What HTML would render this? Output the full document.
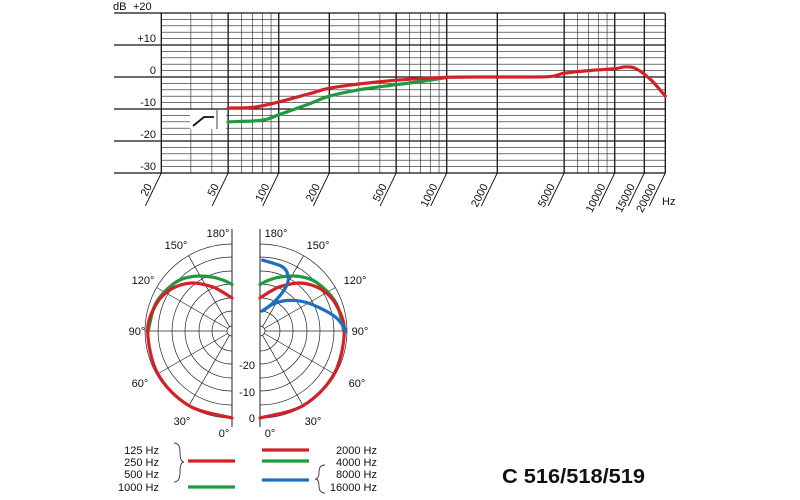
<!DOCTYPE html>
<html><head><meta charset="utf-8"><style>
html,body{margin:0;padding:0;background:#fff;}
svg{display:block;font-family:"Liberation Sans",Arial,sans-serif;}
</style></head><body>
<svg id="s" width="800" height="500" viewBox="0 0 800 500" xmlns="http://www.w3.org/2000/svg">
<rect width="800" height="500" fill="#fff"/>
<g id="grid"></g>
<g font-size="11" fill="#111">
<text x="113" y="10">dB</text><text x="133" y="10">+20</text>
<text x="156" y="42" text-anchor="end">+10</text>
<text x="156" y="74" text-anchor="end">0</text>
<text x="156" y="106" text-anchor="end">-10</text>
<text x="156" y="138" text-anchor="end">-20</text>
<text x="156" y="170" text-anchor="end">-30</text>
<text x="662" y="205">Hz</text>
</g>
<g id="xl" font-size="11" fill="#111"></g>
<g id="curves" fill="none" stroke-width="3.2" stroke-linecap="round" stroke-linejoin="round"></g>
<g id="polar"></g>
<g font-size="11" fill="#111">
<text x="218" y="237" text-anchor="middle">180°</text>
<text x="276" y="237" text-anchor="middle">180°</text>
<text x="176" y="249" text-anchor="middle">150°</text>
<text x="318" y="249" text-anchor="middle">150°</text>
<text x="143" y="284" text-anchor="middle">120°</text>
<text x="355" y="284" text-anchor="middle">120°</text>
<text x="137" y="335" text-anchor="middle">90°</text>
<text x="360" y="335" text-anchor="middle">90°</text>
<text x="140" y="387" text-anchor="middle">60°</text>
<text x="357" y="387" text-anchor="middle">60°</text>
<text x="182" y="425" text-anchor="middle">30°</text>
<text x="313" y="425" text-anchor="middle">30°</text>
<text x="224" y="437" text-anchor="middle">0°</text>
<text x="270" y="437" text-anchor="middle">0°</text>
<text x="255" y="369" text-anchor="end">-20</text>
<text x="255" y="396" text-anchor="end">-10</text>
<text x="255" y="422" text-anchor="end">0</text>
<text x="159" y="454" text-anchor="end">125 Hz</text>
<text x="159" y="466" text-anchor="end">250 Hz</text>
<text x="159" y="478" text-anchor="end">500 Hz</text>
<text x="159" y="491" text-anchor="end">1000 Hz</text>
<text x="377" y="454" text-anchor="end">2000 Hz</text>
<text x="377" y="466" text-anchor="end">4000 Hz</text>
<text x="377" y="478" text-anchor="end">8000 Hz</text>
<text x="377" y="491" text-anchor="end">16000 Hz</text>
</g>
<g fill="none" stroke="#333" stroke-width="0.9">
<path d="M174,443 Q180,443 180,452 Q180,462 184,462 Q180,462 180,472 Q180,482 174,482"/>
<path d="M325,465 Q319,465 319,472 Q319,479 315,479 Q319,479 319,486 Q319,493 325,493"/>
</g>
<g stroke-width="3.2">
<line x1="188" y1="461" x2="235" y2="461" stroke="#d42027"/>
<line x1="188" y1="487" x2="235" y2="487" stroke="#1f9a3f"/>
<line x1="262" y1="450" x2="309" y2="450" stroke="#d42027"/>
<line x1="262" y1="461" x2="309" y2="461" stroke="#1f9a3f"/>
<line x1="262" y1="480" x2="309" y2="480" stroke="#1d6fbf"/>
</g>
<text x="502" y="483" font-size="20" font-weight="bold" fill="#111" textLength="143" lengthAdjust="spacingAndGlyphs">C 516/518/519</text>
</svg>
<script>
const NS="http://www.w3.org/2000/svg";
function el(p,t,a){const e=document.createElementNS(NS,t);for(const k in a)e.setAttribute(k,a[k]);p.appendChild(e);return e;}
const X=f=>161.3+168*Math.log10(f/20);
const Y=d=>77-d*3.2;
const g=document.getElementById('grid');
for(let d=-30;d<=20;d+=2){ if(d%10===0) continue;
 el(g,'line',{x1:161.3,x2:665,y1:Y(d),y2:Y(d),stroke:'#222','stroke-width':0.6});}
for(let d=-30;d<=20;d+=10){el(g,'line',{x1:114,x2:665,y1:Y(d),y2:Y(d),stroke:'#111','stroke-width':1.3});}
const minor=[30,40,60,70,80,90,300,400,600,700,800,900,6000,7000,8000,9000];
minor.forEach(f=>el(g,'line',{x1:X(f),x2:X(f),y1:Y(20),y2:Y(-30),stroke:'#222','stroke-width':0.6}));
const major=[20,50,100,200,500,1000,2000,5000,10000,15000,20000];
const xl=document.getElementById('xl');
major.forEach(f=>{const x=X(f);
 el(g,'line',{x1:x,x2:x,y1:Y(20),y2:Y(-30),stroke:'#111','stroke-width':1.3});
 el(g,'line',{x1:x,x2:x-16,y1:Y(-30),y2:206,stroke:'#111','stroke-width':0.9});
 const ax=x-9, ay=186;
 const t=el(xl,'text',{x:ax,y:ay,'text-anchor':'end',transform:`rotate(-63 ${ax} ${ay})`});t.textContent=f;});
el(g,'rect',{x:190,y:110,width:36,height:19,fill:'#fff'});
el(g,'line',{x1:217,x2:217,y1:110,y2:129,stroke:'#111','stroke-width':0.8});
el(g,'polyline',{points:'193,126 204,117 214,117',fill:'none',stroke:'#111','stroke-width':1.8});
function cr(pts){let d=`M${pts[0][0].toFixed(1)},${pts[0][1].toFixed(1)}`;
 for(let i=0;i<pts.length-1;i++){const p0=pts[i-1]||pts[i],p1=pts[i],p2=pts[i+1],p3=pts[i+2]||p2;
  const c1=[p1[0]+(p2[0]-p0[0])/6,p1[1]+(p2[1]-p0[1])/6],c2=[p2[0]-(p3[0]-p1[0])/6,p2[1]-(p3[1]-p1[1])/6];
  d+=` C${c1[0].toFixed(1)},${c1[1].toFixed(1)} ${c2[0].toFixed(1)},${c2[1].toFixed(1)} ${p2[0].toFixed(1)},${p2[1].toFixed(1)}`;}
 return d;}
const cv=document.getElementById('curves');
const green=[[50,-14],[80,-13.5],[100,-11.8],[150,-8.5],[200,-6],[300,-4],[500,-2.4],[700,-1.4],[1000,-0.2]];
const red=[[50,-9.7],[70,-9.5],[100,-7.8],[150,-5.3],[200,-3.5],[300,-2.2],[500,-1],[1000,-0.1],[2000,0],[4000,0.1],[5000,1.2],[7000,2],[10000,2.6],[11700,3.2],[13500,2.5],[16500,-1],[20000,-6]];
el(cv,'path',{d:cr(green.map(p=>[X(p[0]),Y(p[1])])),stroke:'#1f9a3f'});
el(cv,'path',{d:cr(red.map(p=>[X(p[0]),Y(p[1])])),stroke:'#d42027'});
const P=document.getElementById('polar');
const cy=331,R=87,K=2.7;
function half(cx,dir){
 [20,33,47,60,74,87].forEach(r=>{el(P,'path',{d:`M${cx},${cy-r} A${r},${r} 0 0 ${dir<0?0:1} ${cx},${cy+r}`,fill:'none',stroke:'#222','stroke-width':0.7});});
 el(P,'path',{d:`M${cx},${cy-5} A5,5 0 0 ${dir<0?0:1} ${cx},${cy+5}`,fill:'none',stroke:'#222','stroke-width':0.7});
 [30,60,90,120,150].forEach(a=>{const t=a*Math.PI/180;
  el(P,'line',{x1:cx+dir*5*Math.sin(t),y1:cy+5*Math.cos(t),x2:cx+dir*R*Math.sin(t),y2:cy+R*Math.cos(t),stroke:'#222','stroke-width':0.7});});
 el(P,'line',{x1:cx,x2:cx,y1:229,y2:427,stroke:'#222','stroke-width':1});
}
half(232,-1);half(260,1);
function pc(cx,dir,tab,col){const pts=tab.map(([a,d])=>{const t=a*Math.PI/180,r=R+d*K;return[cx+dir*r*Math.sin(t),cy+r*Math.cos(t)];});
 el(P,'path',{d:cr(pts),fill:'none',stroke:col,'stroke-width':3.2,'stroke-linecap':'round'});}
const pr=[[0,0],[30,-0.3],[60,-0.5],[90,-1],[110,-2.5],[125,-5],[140,-9],[155,-14],[165,-17],[180,-20]];
const pg=[[90,-1.2],[110,-2.2],[130,-4.5],[145,-7.5],[160,-11],[172,-13.5],[180,-15]];
pc(232,-1,pg,'#1f9a3f');pc(232,-1,pr,'#d42027');
pc(260,1,pg,'#1f9a3f');pc(260,1,pr,'#d42027');
const bl=[[262.7,260.2],[282.5,266.9],[288.3,277],[285.9,287],[277.3,298.7],[267.1,307.8],[262,311]];
const bl2=[[262,311],[273.9,303.8],[287.6,300.4],[304.7,302],[321.7,308.8],[335.4,317],[343.9,327],[345.6,331.6]];
el(P,'path',{d:cr(bl),fill:'none',stroke:'#1d6fbf','stroke-width':3.2,'stroke-linecap':'round'});
el(P,'path',{d:cr(bl2),fill:'none',stroke:'#1d6fbf','stroke-width':3.2,'stroke-linecap':'round'});
</script>
</body></html>
